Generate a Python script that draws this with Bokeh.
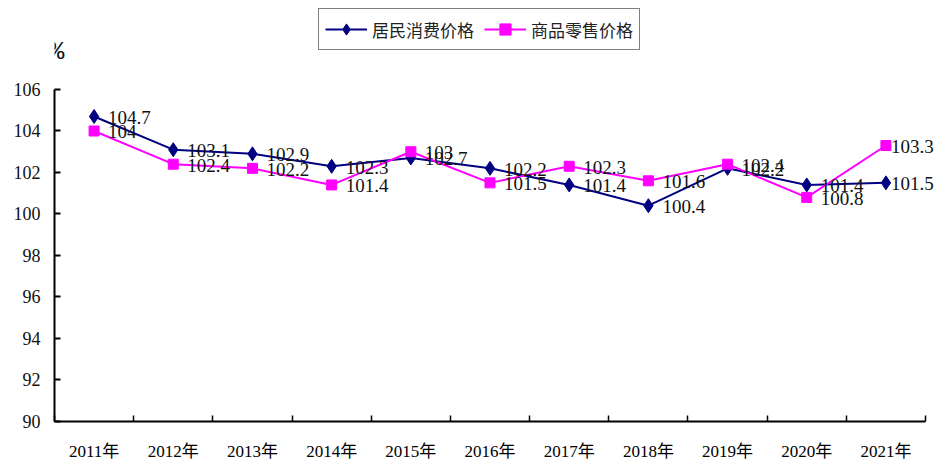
from bokeh.plotting import figure
from bokeh.models import Range1d, FixedTicker, Legend, LegendItem, Label
from bokeh.embed import file_html
from bokeh.resources import INLINE
from bokeh.core.properties import value

years = ["2011年", "2012年", "2013年", "2014年", "2015年", "2016年",
         "2017年", "2018年", "2019年", "2020年", "2021年"]
cpi = [104.7, 103.1, 102.9, 102.3, 102.7, 102.2, 101.4, 100.4, 102.2, 101.4, 101.5]
retail = [104, 102.4, 102.2, 101.4, 103, 101.5, 102.3, 101.6, 102.4, 100.8, 103.3]
y_ticks = [90, 92, 94, 96, 98, 100, 102, 104, 106]
series_names = ["居民消费价格", "商品零售价格"]
unit_label = "%"

NAVY = "#000080"
MAGENTA = "#FF00FF"

n = len(years)
x = [i + 0.5 for i in range(n)]
cpi_text = [f"{v:g}" for v in cpi]
retail_text = [f"{v:g}" for v in retail]
# label offsets (px): last labels are pushed inward as in the reference
offsets = [14] * (n - 1) + [5]

p = figure(width=935, height=470, output_backend="svg", toolbar_location=None,
           x_range=Range1d(0, n + 0.126), y_range=Range1d(90, 110.289),
           min_border_left=54, min_border_right=0, min_border_top=0,
           min_border_bottom=49)
p.outline_line_color = None
p.grid.visible = False
p.background_fill_color = "white"

l1 = p.line(x, cpi, line_color=NAVY, line_width=2)
s1 = p.scatter(x, cpi, marker="diamond", size=14, fill_color=NAVY, line_color=NAVY)
l2 = p.line(x, retail, line_color=MAGENTA, line_width=2)
s2 = p.scatter(x, retail, marker="square", size=10, fill_color=MAGENTA, line_color=MAGENTA)

for vals, txt in ((cpi, cpi_text), (retail, retail_text)):
    p.text(x, vals, text=txt, x_offset=offsets, y_offset=1, text_baseline="middle",
           text_align="left", text_color="#111111",
           text_font=value("Liberation Serif"), text_font_size="19px")

# x axis
xa = p.xaxis[0]
xa.ticker = FixedTicker(ticks=x, minor_ticks=list(range(n + 1)))
xa.bounds = (0, n)
xa.major_label_overrides = {xi: yr for xi, yr in zip(x, years)}
xa.major_tick_in = 0
xa.major_tick_out = 0
xa.minor_tick_in = 6
xa.minor_tick_out = 0
xa.minor_tick_line_color = "black"
xa.minor_tick_line_width = 1.5
xa.axis_line_width = 2
xa.axis_line_color = "black"
xa.major_label_standoff = 20
xa.major_label_text_font = "'Liberation Serif', 'Noto Sans CJK SC'"
xa.major_label_text_font_size = "17px"
xa.major_label_text_color = "#000000"

# y axis
ya = p.yaxis[0]
ya.ticker = FixedTicker(ticks=y_ticks, minor_ticks=[])
ya.bounds = (90, 106)
ya.major_tick_in = 6
ya.major_tick_out = 0
ya.minor_tick_in = 0
ya.minor_tick_out = 0
ya.axis_line_width = 2
ya.axis_line_color = "black"
ya.major_tick_line_width = 2
ya.major_label_standoff = 14
ya.major_label_text_font = "Liberation Serif"
ya.major_label_text_font_size = "18px"
ya.major_label_text_color = "#111111"

p.add_layout(Label(x=0.025, y=107.8, text=unit_label, text_align="center",
                   text_baseline="middle", text_font="Liberation Mono",
                   text_font_size="26px", text_color="#111111"))

legend = Legend(items=[LegendItem(label=series_names[0], renderers=[l1, s1]),
                       LegendItem(label=series_names[1], renderers=[l2, s2])],
                location=(264, 371), orientation="horizontal",
                glyph_width=42, glyph_height=28, label_standoff=5, spacing=10,
                padding=6, margin=0, border_line_color="black", border_line_width=1.5,
                label_text_font="Noto Sans CJK SC", label_text_font_size="17px",
                label_text_color="#222222", background_fill_alpha=1)
p.add_layout(legend)

open("out.html", "w").write(file_html(p, INLINE))
